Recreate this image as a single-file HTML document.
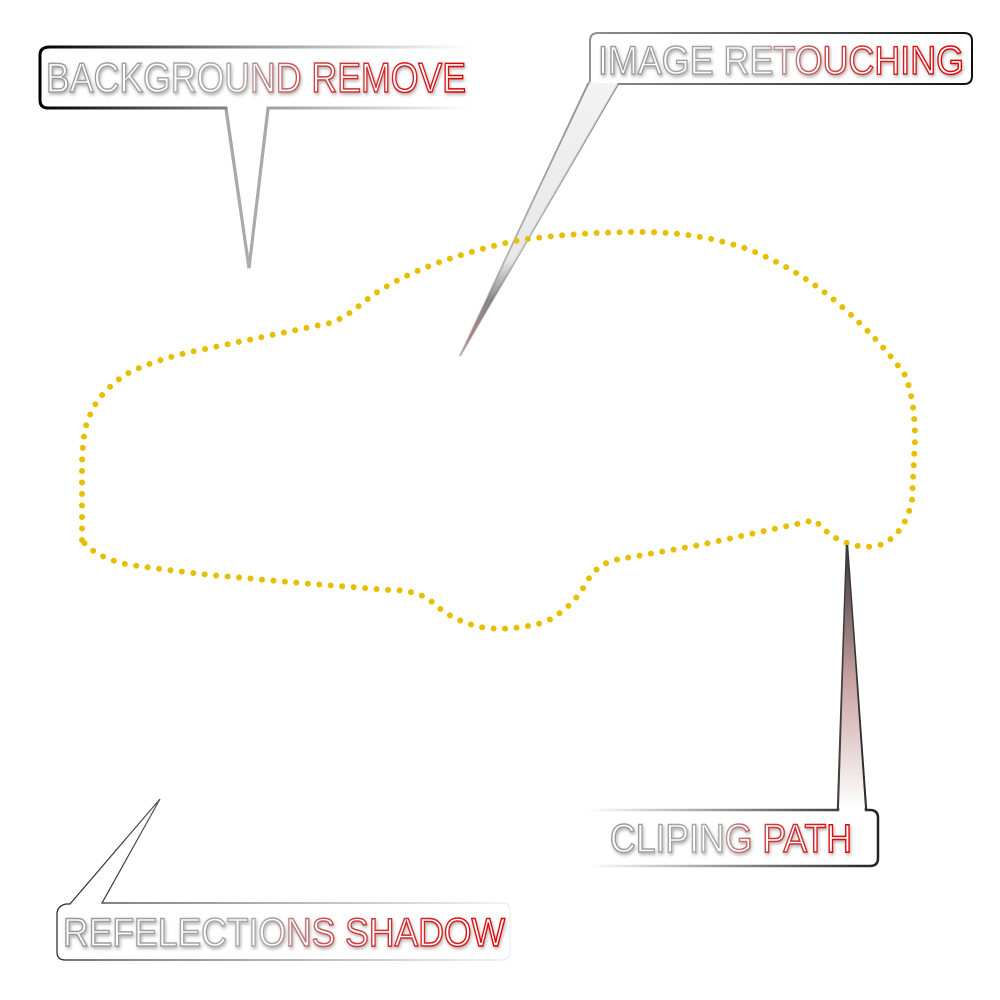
<!DOCTYPE html>
<html><head><meta charset="utf-8"><style>
html,body{margin:0;padding:0;background:#fff;width:1000px;height:1000px;overflow:hidden}
</style></head><body>
<svg width="1000" height="1000" viewBox="0 0 1000 1000" xmlns="http://www.w3.org/2000/svg">
<defs>
<linearGradient id="tg" x1="0" x2="1" y1="0" y2="0">
<stop offset="0" stop-color="#999"/><stop offset="0.45" stop-color="#aaa"/><stop offset="0.62" stop-color="#c44"/><stop offset="1" stop-color="#d00"/>
</linearGradient>
<linearGradient id="bx1" x1="0" x2="1"><stop offset="0" stop-color="#000"/><stop offset="0.5" stop-color="#999"/><stop offset="1" stop-color="#fff"/></linearGradient>
<linearGradient id="bx2" x1="0" x2="1"><stop offset="0" stop-color="#bbb"/><stop offset="1" stop-color="#111"/></linearGradient>
<linearGradient id="bx3" x1="0" x2="1"><stop offset="0" stop-color="#fff"/><stop offset="1" stop-color="#222"/></linearGradient>
<linearGradient id="bx4" x1="0" x2="1"><stop offset="0" stop-color="#222"/><stop offset="1" stop-color="#eee"/></linearGradient>
<linearGradient id="t2" x1="0" y1="0" x2="0" y2="1"><stop offset="0" stop-color="#eee"/><stop offset="0.65" stop-color="#ddd"/><stop offset="0.8" stop-color="#555"/><stop offset="1" stop-color="#d66"/></linearGradient>
<linearGradient id="t3" x1="0" y1="0" x2="0" y2="1"><stop offset="0" stop-color="#333"/><stop offset="0.5" stop-color="#c9a0a0"/><stop offset="1" stop-color="#fff"/></linearGradient>
<filter id="sh" x="-10%" y="-10%" width="120%" height="140%"><feDropShadow dx="1" dy="2" stdDeviation="1.5" flood-color="#000" flood-opacity="0.3"/></filter>
</defs>

<!-- Background Remove -->
<path d="M50,47 H462 Q470,47 470,55 V100 Q470,108 462,108 H268 L249,268 L226,108 H48 Q40,108 40,100 V55 Q40,47 50,47 Z" fill="#fff" stroke="url(#bx1)" stroke-width="3"/>
<path d="M226,110 L249,268 L268,110" fill="none" stroke="#aaa" stroke-width="3"/>
<text x="46" y="92" font-family="Liberation Sans, sans-serif" font-size="42" textLength="420" lengthAdjust="spacingAndGlyphs" fill="#fff" stroke="url(#tg)" stroke-width="1.5" filter="url(#sh)">BACKGROUND REMOVE</text>

<!-- Image retouching -->
<path d="M598,33 H964 Q972,33 972,41 V76 Q972,84 964,84 H618 L460,356 L588,84 Q590,84 590,78 V41 Q590,33 598,33 Z" fill="#fff" stroke="url(#bx2)" stroke-width="2"/>
<path d="M590,82 L618,84 L460,356 Z" fill="url(#t2)" opacity="0.7"/>
<text x="598" y="74" font-family="Liberation Sans, sans-serif" font-size="40" textLength="366" lengthAdjust="spacingAndGlyphs" fill="#fff" stroke="url(#tg)" stroke-width="1.5" filter="url(#sh)">IMAGE RETOUCHING</text>

<!-- Car outline -->
<path d="M82,540 L82,470 Q82,430 90,415 Q100,390 130,372 Q160,358 200,350 L330,323 Q345,318 360,305 Q390,280 440,262 Q480,248 520,240 Q580,232 640,232 Q700,232 750,250 Q800,270 840,305 Q880,340 905,375 Q915,400 915,440 L912,500 Q905,535 880,545 Q860,550 840,540 Q828,535 815,520 L700,545 L615,560 Q595,565 585,585 Q570,610 545,622 Q510,632 480,627 Q450,620 430,600 Q415,590 390,590 L300,583 L200,574 L130,565 Q95,558 82,540 Z" fill="none" stroke="#e6bf00" stroke-width="6" stroke-linecap="round" stroke-dasharray="0 11.5"/>

<!-- Clipping path -->
<path d="M597,810 H838 L847,545 L866,810 H870 Q878,810 878,818 V858 Q878,866 870,866 H597 Q589,866 589,858 V818 Q589,810 597,810 Z" fill="#fff" stroke="url(#bx3)" stroke-width="2.5"/>
<path d="M839,808 L847,545 L865,808 Z" fill="url(#t3)"/>
<text x="610" y="852" font-family="Liberation Sans, sans-serif" font-size="40" textLength="242" lengthAdjust="spacingAndGlyphs" fill="#fff" stroke="url(#tg)" stroke-width="1.5" filter="url(#sh)">CLIPING PATH</text>

<!-- Reflections shadow -->
<path d="M70,904 L160,799 L102,903 H502 Q510,903 510,911 V952 Q510,960 502,960 H65 Q57,960 57,952 V914 Q57,906 66,904 Z" fill="#fff" stroke="url(#bx4)" stroke-width="1.2"/>
<text x="63" y="946" font-family="Liberation Sans, sans-serif" font-size="40" textLength="442" lengthAdjust="spacingAndGlyphs" fill="#fff" stroke="url(#tg)" stroke-width="1.5" filter="url(#sh)">REFELECTIONS SHADOW</text>
</svg>
</body></html>
